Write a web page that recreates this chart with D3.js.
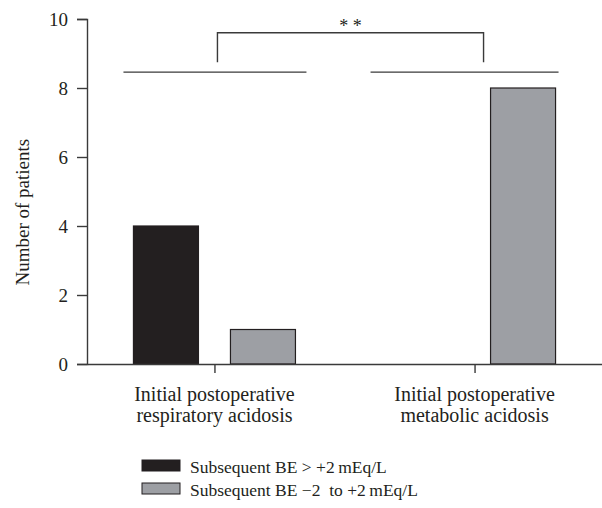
<!DOCTYPE html>
<html>
<head>
<meta charset="utf-8">
<script src="https://cdn.jsdelivr.net/npm/d3@7"></script>
<style>
  body { margin: 0; background: #fff; }
  text { font-family: "Liberation Serif", "DejaVu Serif", serif; fill: #231f20; }
</style>
</head>
<body>
<svg id="chart" width="602" height="508"></svg>
<script>
// categories and series
const categories = ["Initial postoperative|respiratory acidosis", "Initial postoperative|metabolic acidosis"];
const series = ["Subsequent BE > +2\u2009mEq/L", "Subsequent BE \u22122  to +2\u2009mEq/L"];
const aboveTwo = [4, 0];
const withinRange = [1, 8];
const yTicks = [0, 2, 4, 6, 8, 10];
const colors = ["#231f20", "#9d9fa4"];

const svg = d3.select("#chart");
const margin = {top: 19, right: 0, bottom: 144, left: 87};
const W = 602, H = 508;

const x = d3.scalePoint().domain(categories).range([margin.left, W - margin.right]).padding(0.49);
const xs = d3.scaleBand().domain(series).range([-81, 81]).paddingInner(0.33);
const y = d3.scaleLinear().domain([0, 10]).range([H - margin.bottom, margin.top]);

// bars
const rows = categories.map((c, i) => ({cat: c, vals: [aboveTwo[i], withinRange[i]]}));
const g = svg.append("g");
rows.forEach(r => {
  g.selectAll(null)
    .data(r.vals.map((v, j) => ({v, s: series[j], j})).filter(d => d.v > 0))
    .join("rect")
    .attr("x", d => x(r.cat) + xs(d.s))
    .attr("y", d => y(d.v))
    .attr("width", xs.bandwidth())
    .attr("height", d => y(0) - y(d.v))
    .attr("fill", d => colors[d.j])
    .attr("stroke", "#231f20")
    .attr("stroke-width", 1.2);
});

// y axis
const yAxis = svg.append("g")
  .attr("transform", `translate(${margin.left},0)`)
  .call(d3.axisLeft(y).tickValues(yTicks).tickSize(10).tickPadding(9));
yAxis.select(".domain").attr("stroke", "#3a3a3a").attr("stroke-width", 1.4);
yAxis.selectAll(".tick line").attr("stroke", "#3a3a3a").attr("stroke-width", 1.4);
yAxis.selectAll(".tick text").style("font-size", "19px").style("font-family", "Liberation Serif").attr("fill", "#231f20");

// x axis
const xAxis = svg.append("g")
  .attr("transform", `translate(0,${y(0)})`)
  .call(d3.axisBottom(x).tickSize(9).tickSizeOuter(0).tickFormat(""));
xAxis.select(".domain").attr("stroke", "#3a3a3a").attr("stroke-width", 1.4);
xAxis.selectAll(".tick line").attr("stroke", "#3a3a3a").attr("stroke-width", 1.4);

categories.forEach(c => {
  const t = svg.append("text")
    .attr("x", x(c)).attr("y", 401)
    .attr("text-anchor", "middle")
    .style("font-size", "20px");
  c.split("|").forEach((line, i) => {
    t.append("tspan").attr("x", x(c)).attr("dy", i ? 21 : 0).text(line);
  });
});

// y label
svg.append("text")
  .attr("transform", `translate(29,${y(4.4)}) rotate(-90)`)
  .attr("text-anchor", "middle")
  .style("font-size", "19px")
  .text("Number of patients");

// significance annotation
const ann = svg.append("g").attr("stroke", "#3a3a3a").attr("stroke-width", 1.4).attr("fill", "none");
ann.append("line").attr("x1", x(categories[0]) - 91).attr("x2", x(categories[0]) + 92)
  .attr("y1", y(8.46)).attr("y2", y(8.46));
ann.append("line").attr("x1", x(categories[1]) - 104).attr("x2", x(categories[1]) + 84)
  .attr("y1", y(8.46)).attr("y2", y(8.46));
ann.append("path").attr("d", d3.line()([
  [x(categories[0]) + 3, y(8.75)],
  [x(categories[0]) + 3, y(9.6)],
  [x(categories[1]) + 9, y(9.6)],
  [x(categories[1]) + 9, y(8.75)]
]));
svg.append("text")
  .attr("x", (x(categories[0]) + x(categories[1])) / 2 + 6).attr("y", 32)
  .attr("text-anchor", "middle")
  .style("font-size", "18px")
  .text("* *");

// legend
const leg = svg.append("g").attr("transform", "translate(142,460)");
series.forEach((s, i) => {
  leg.append("rect").attr("x", 0).attr("y", i * 23).attr("width", 38).attr("height", 11)
    .attr("fill", colors[i]).attr("stroke", "#231f20").attr("stroke-width", 1);
  leg.append("text").attr("x", 48).attr("y", i * 23 + 13).style("font-size", "17.5px")
    .style("white-space", "pre").text(s);
});
</script>
</body>
</html>
